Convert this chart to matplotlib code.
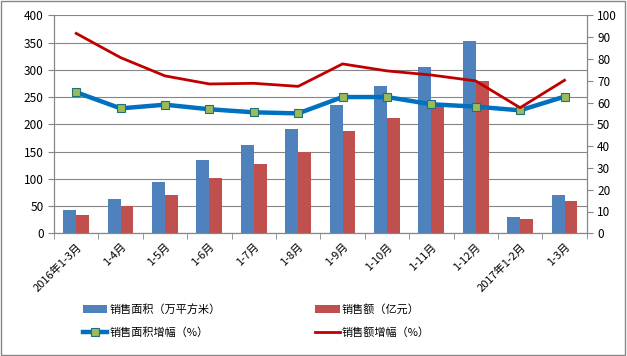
import matplotlib
matplotlib.use('Agg')
import matplotlib.pyplot as plt
import numpy as np
from matplotlib.patches import Rectangle

plt.rcParams['font.family'] = ['Noto Sans CJK SC', 'DejaVu Sans']

cats = ['2016年1-3月', '1-4月', '1-5月', '1-6月', '1-7月', '1-8月', '1-9月',
        '1-10月', '1-11月', '1-12月', '2017年1-2月', '1-3月']
area = [43, 63, 94, 134, 162, 191, 235, 270, 305, 353, 30, 70]
amount = [34, 50, 70, 101, 127, 150, 187, 212, 237, 280, 26, 59]
area_growth = [64.7, 57.3, 59.0, 56.9, 55.5, 55.0, 62.5, 62.5, 59.2, 58.1, 56.4, 62.7]
amount_growth = [91.7, 80.6, 72.2, 68.5, 68.8, 67.4, 77.7, 74.5, 72.6, 69.9, 57.6, 70.2]

fig = plt.figure(figsize=(6.27, 3.56), dpi=100)
ax = fig.add_axes([54/627, 1-233.3/356, (586.7-54)/627, (233.3-15.3)/356])
ax2 = ax.twinx()

x = np.arange(len(cats))
w = 0.29
b1 = ax.bar(x - w/2, area, w, color='#4F81BD', zorder=2)
b2 = ax.bar(x + w/2, amount, w, color='#C0504D', zorder=2)

l1, = ax2.plot(x, area_growth, color='#0070C0', lw=3.2, marker='s', ms=6,
               mfc='#9BBB59', mec='#1F6F7F', mew=0.8, zorder=3)
l2, = ax2.plot(x, amount_growth, color='#C00000', lw=2, zorder=3)

ax.set_xlim(-0.5, len(cats) - 0.5)
ax.set_ylim(0, 400)
ax.set_yticks(range(0, 401, 50))
ax2.set_ylim(0, 100)
ax2.set_yticks(range(0, 101, 10))
ax.grid(axis='y', color='#868686', lw=0.8, zorder=0)
ax.set_axisbelow(True)

ax.set_xticks(x)
ax.set_xticklabels(cats, rotation=45, ha='right', rotation_mode='anchor', fontsize=8)
ax.set_xticks(np.arange(-0.5, len(cats), 1), minor=True)
ax.tick_params(axis='x', which='major', length=0, pad=6)
ax.tick_params(axis='x', which='minor', length=4, color='#868686')
ax.tick_params(axis='y', labelsize=8.5, length=4, color='#868686')
ax2.tick_params(axis='y', labelsize=8.5, length=4, color='#868686')

for a in (ax, ax2):
    a.spines['top'].set_visible(False)
    for s in ('left', 'right', 'bottom'):
        a.spines[s].set_color('#868686')

fig.legend([b1, l1, b2, l2],
           ['销售面积（万平方米）', '销售面积增幅（%）', '销售额（亿元）', '销售额增幅（%）'],
           ncol=2, loc='upper left', bbox_to_anchor=(73/627, 1-294/356),
           frameon=False, fontsize=8, handlelength=2.2, handletextpad=0.2,
           columnspacing=8.5, labelspacing=1.1)

fig.patches.append(Rectangle((0.002, 0.003), 0.995, 0.993, transform=fig.transFigure,
                             fill=False, edgecolor='#868686', lw=1))

fig.savefig('out.png', dpi=100)
